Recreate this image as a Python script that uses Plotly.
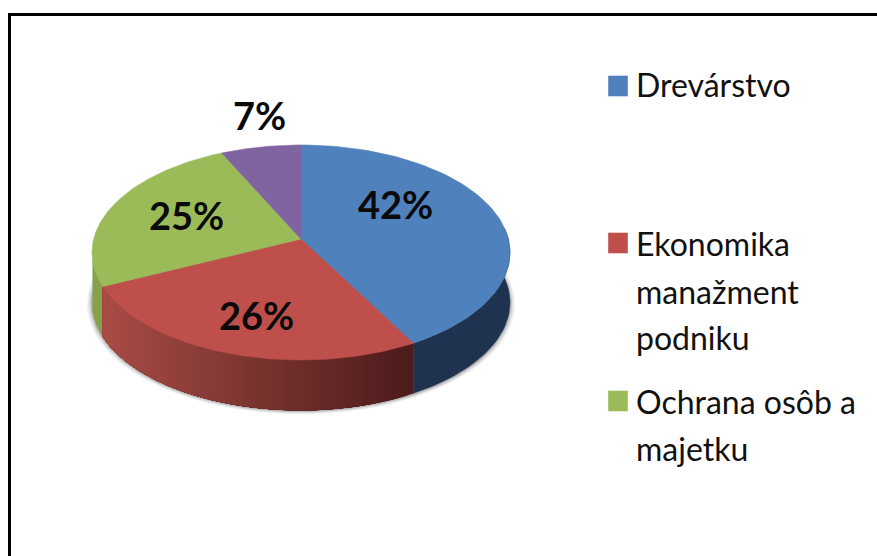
import numpy as np
import plotly.graph_objects as go

# Shares
categories = ["Drevárstvo", "Ekonomika manažment podniku", "Ochrana osôb a majetku", "Iné"]
values = [42, 26, 25, 7]
top_colors = ["#4F81BD", "#BE4F4B", "#9BBB59", "#8064A2"]

# Legend lines (the purple entry is cut off in the original)
legend_lines = [["Drevárstvo"], ["Ekonomika", "manažment", "podniku"], ["Ochrana osôb a", "majetku"]]
legend_y = [[84], [243, 291, 337], [401, 448]]
swatch_y = [86, 243, 401]

# Pie projection in page pixels
CX, CY = 301, 239
RX, RY = 207.3, 105.8
PERSP = 0.1255
DEPTH = 50


def project(theta, scale=1.0):
    # theta is clockwise from 12 o'clock, in degrees, flat disc seen in perspective
    t = np.radians(theta)
    u, v = np.sin(t) * scale, -np.cos(t) * scale
    s = 1 / (1 - PERSP * v)
    return CX + RX * u * s, CY + RY * v * s


def mix(a, b, f):
    return "rgb(%d,%d,%d)" % tuple(a[i] + (b[i] - a[i]) * f for i in range(3))


def add_poly(fig, x, y, color):
    fig.add_trace(go.Scatter(x=x, y=y, mode="lines", fill="toself", fillcolor=color,
                             line=dict(color=color, width=0.6), hoverinfo="skip", showlegend=False))


fig = go.Figure()

# soft shadow under the pie
ring = np.linspace(0, 360, 181)
for grow, alpha in [(1.024, 0.05), (1.017, 0.07), (1.01, 0.1), (1.004, 0.13)]:
    sx, sy = project(ring, grow)
    fig.add_trace(go.Scatter(x=sx, y=sy + DEPTH + 1, mode="lines", fill="toself",
                             fillcolor="rgba(0,0,0,%.2f)" % alpha, line=dict(width=0),
                             hoverinfo="skip", showlegend=False))

edges = np.cumsum([0] + values) * 3.6

# side walls: only the part facing the viewer, from the right edge round to the left edge
VIS_START, VIS_END = 84, 258
# blue wall
th = np.linspace(VIS_START, edges[1], 40)
wx, wy = project(th)
add_poly(fig, np.r_[wx, wx[::-1]], np.r_[wy, wy[::-1] + DEPTH], "#1F3350")
# green sliver goes under the red wall
th = np.linspace(edges[2] - 2, VIS_END, 12)
wx, wy = project(th)
add_poly(fig, np.r_[wx, wx[::-1]], np.r_[wy, wy[::-1] + DEPTH], "#86A14B")
# red wall has a left to right gradient; every strip runs to the wall's far end so no seams show
cuts = np.linspace(edges[1], edges[2], 70)
x_left, x_right = project(edges[2])[0], project(edges[1])[0]
for a in cuts[:-1]:
    th = np.linspace(a, edges[2], 40)
    wx, wy = project(th)
    f = (wx[0] - x_left) / (x_right - x_left)
    add_poly(fig, np.r_[wx, wx[::-1]], np.r_[wy, wy[::-1] + DEPTH], mix((170, 76, 70), (76, 28, 27), f))

# top face
for i, val in enumerate(values):
    th = np.linspace(edges[i], edges[i + 1], 80)
    px, py = project(th)
    fig.add_trace(go.Scatter(x=np.r_[CX, px, CX], y=np.r_[CY, py, CY], mode="lines", fill="toself",
                             fillcolor=top_colors[i], line=dict(color=top_colors[i], width=0.6),
                             name=categories[i], hoverinfo="name", showlegend=False))

# percent labels
label_pos = [(395, 204), (256, 315), (186, 215), (259, 115)]
for val, (lx, ly) in zip(values, label_pos):
    fig.add_annotation(x=lx, y=ly, text="<b>%d%%</b>" % val, showarrow=False,
                       font=dict(family="Lato", size=38, color="#0A0A0A"))

# hand made legend, spaced like the original
shapes = []
for i, sy in enumerate(swatch_y):
    shapes.append(dict(type="rect", x0=608, x1=628, y0=sy - 10.5, y1=sy + 10.5,
                       fillcolor=top_colors[i], line=dict(width=0.7, color="rgba(255,255,255,0.6)")))
    for line, ty in zip(legend_lines[i], legend_y[i]):
        fig.add_annotation(x=634, y=ty, text=line, showarrow=False, xanchor="left",
                           font=dict(family="Lato", size=32, color="#111111"))

# frame is only on the top and the left, the rest is cut off
shapes.append(dict(type="line", x0=9.5, x1=877, y0=14.5, y1=14.5, line=dict(color="black", width=3)))
shapes.append(dict(type="line", x0=9.5, x1=9.5, y0=13, y1=556, line=dict(color="black", width=3)))

fig.update_layout(
    width=877, height=556,
    margin=dict(l=0, r=0, t=0, b=0),
    paper_bgcolor="white", plot_bgcolor="white",
    xaxis=dict(range=[0, 877], visible=False, fixedrange=True),
    yaxis=dict(range=[556, 0], visible=False, fixedrange=True),
    shapes=shapes,
    showlegend=False,
)

fig.write_html("out.html", config=dict(displayModeBar=False),
               post_script="document.body.style.margin='0';")
